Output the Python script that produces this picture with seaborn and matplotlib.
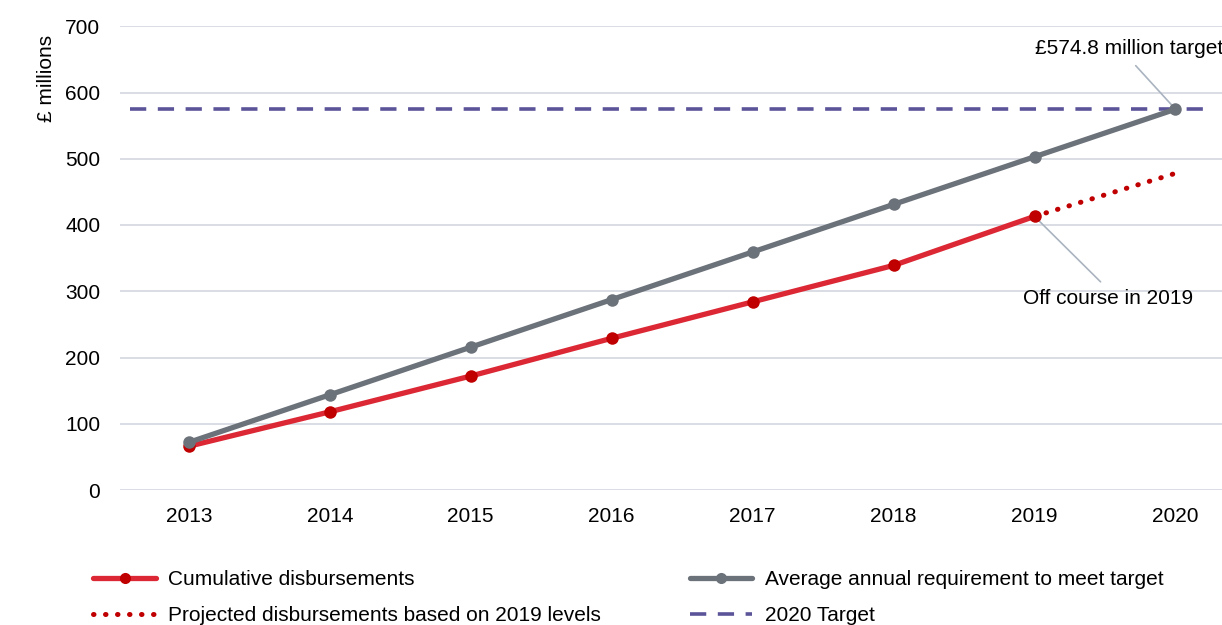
import numpy as np
import pandas as pd
import seaborn as sns
import matplotlib.pyplot as plt
from matplotlib.lines import Line2D

years = ["2013", "2014", "2015", "2016", "2017", "2018", "2019", "2020"]
cumulative = [66, 118, 172, 229, 284, 339, 413]          # 2013-2019
required = [71.9, 143.7, 215.6, 287.4, 359.3, 431.1, 503.0, 574.8]
projected_years = ["2019", "2020"]
projected = [413, 478]
target = 574.8

sns.set_theme(style="white")
plt.rcParams['font.family'] = ['Liberation Sans', 'DejaVu Sans']
plt.rcParams.update({"text.color": "black", "axes.labelcolor": "black",
                     "xtick.color": "black", "ytick.color": "black"})

red = "#dc2834"
dark_red = "#c00000"
grey = "#6c727a"
purple = "#5b5499"
fs = 15

fig = plt.figure(figsize=(12.22, 6.25), dpi=100)
ax = fig.add_axes([0.098, 0.216, 0.902, 0.742])

df_req = pd.DataFrame({"year": years, "value": required})
df_cum = pd.DataFrame({"year": years[:len(cumulative)], "value": cumulative})
df_proj = pd.DataFrame({"year": projected_years, "value": projected})

# categorical x from the year strings
order = {y: i for i, y in enumerate(years)}
df_req["x"] = df_req["year"].map(order)
df_cum["x"] = df_cum["year"].map(order)
df_proj["x"] = df_proj["year"].map(order)

ax.yaxis.grid(True, color="#d9dde3", lw=1.4)
ax.set_axisbelow(True)

ax.axhline(target, xmin=0.009, xmax=0.989, color=purple, lw=2.6,
           dashes=(4.5, 3.2), zorder=2)

dots = (0, (0.1, 2.3))
sns.lineplot(data=df_proj, x="x", y="value", ax=ax, color=dark_red, lw=3.6,
             linestyle=dots, zorder=3)
ax.lines[-1].set_dash_capstyle("round")
sns.lineplot(data=df_req, x="x", y="value", ax=ax, color=grey, lw=3.8,
             marker="o", markersize=9, markeredgewidth=0, zorder=6)
sns.lineplot(data=df_cum, x="x", y="value", ax=ax, color=red, lw=3.8,
             marker="o", markersize=9, markerfacecolor=dark_red,
             markeredgewidth=0, zorder=5)

ax.set_xlim(-0.49, 7.33)
ax.set_ylim(0, 700)
ax.set_xticks(range(len(years)))
ax.set_xticklabels(years)
ax.set_yticks(range(0, 701, 100))
ax.tick_params(axis="x", labelsize=fs, pad=12, length=0)
ax.tick_params(axis="y", labelsize=fs, pad=14, length=0)
ax.set_xlabel("")
ax.set_ylabel("£ millions", fontsize=fs)
ax.yaxis.set_label_coords(-0.058, 0.888)
for s in ax.spines.values():
    s.set_visible(False)

ax.annotate("£574.8 million target", xy=(7, target), xytext=(6.67, 666),
            ha="center", va="center", fontsize=fs,
            arrowprops=dict(arrowstyle="-", color="#aab4c0", lw=1.2,
                            relpos=(0.5, 0.0), shrinkA=4, shrinkB=2))
ax.annotate("Off course in 2019", xy=(6, cumulative[-1]), xytext=(6.52, 289),
            ha="center", va="center", fontsize=fs,
            arrowprops=dict(arrowstyle="-", color="#aab4c0", lw=1.2,
                            relpos=(0.5, 1.0), shrinkA=4, shrinkB=0))

handles = [
    Line2D([], [], color=red, lw=3.8, marker="o", markersize=8,
           markerfacecolor=dark_red, markeredgewidth=0),
    Line2D([], [], color=dark_red, lw=3.6, linestyle=dots,
           dash_capstyle="round"),
    Line2D([], [], color=grey, lw=3.8, marker="o", markersize=8,
           markeredgewidth=0),
    Line2D([], [], color=purple, lw=2.6, dashes=(4.5, 3.2)),
]
labels = ["Cumulative disbursements",
          "Projected disbursements based on 2019 levels",
          "Average annual requirement to meet target",
          "2020 Target"]
fig.legend(handles, labels, ncol=2, loc="lower left",
           bbox_to_anchor=(0.061, -0.03), frameon=False, fontsize=fs,
           handlelength=3.0, handletextpad=0.6, columnspacing=4.25,
           labelspacing=0.8)

fig.savefig("out.png", dpi=100)
